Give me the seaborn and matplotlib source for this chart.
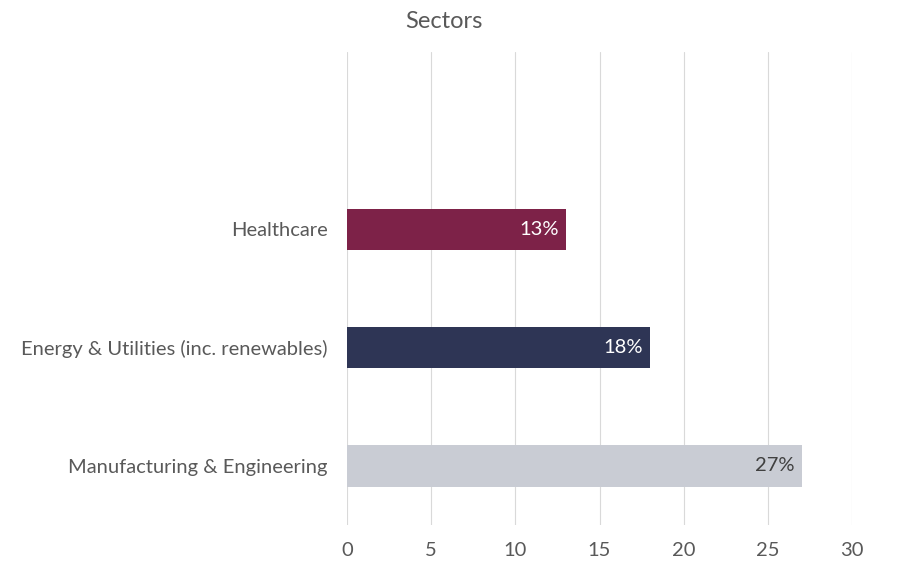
import matplotlib
matplotlib.use("Agg")
import matplotlib.pyplot as plt
import seaborn as sns
import pandas as pd

categories = ["Healthcare", "Energy & Utilities (inc. renewables)", "Manufacturing & Engineering"]
values = [13, 18, 27]
bar_colors = ["#7D2248", "#2E3555", "#C9CCD4"]
label_colors = ["white", "white", "#404040"]
x_ticks = [0, 5, 10, 15, 20, 25, 30]

sns.set_theme(style="white")
plt.rcParams['font.family'] = ['Lato', 'DejaVu Sans']

df = pd.DataFrame({"sector": categories, "value": values})

fig = plt.figure(figsize=(9.22, 5.85), dpi=100)
ax = fig.add_axes([347/922, 1-525/585, (852-347)/922, (525-52)/585])

sns.barplot(data=df, x="value", y="sector", hue="sector", palette=bar_colors,
            order=categories, hue_order=categories, legend=False,
            width=0.35, saturation=1, ax=ax, zorder=3, linewidth=0)

ax.set_xlim(0, 30)
ax.set_ylim(2.5, -1.5)
ax.set_xticks(x_ticks)
ax.set_xticklabels([str(t) for t in x_ticks], fontsize=14.5, color="#595959")
ax.tick_params(axis="y", labelsize=14.5, labelcolor="#595959", length=0, pad=14)
ax.tick_params(axis="x", length=0, pad=12)
ax.set_xlabel("")
ax.set_ylabel("")
ax.grid(axis="x", color="#D9D9D9", linewidth=0.8, zorder=0)
ax.set_axisbelow(True)
for s in ax.spines.values():
    s.set_visible(False)

for i, (v, c) in enumerate(zip(values, label_colors)):
    ax.text(v - 0.4, i, f"{v}%", ha="right", va="center", fontsize=14.5, color=c, zorder=4)

fig.text(444/922, 1-21/585, "Sectors", ha="center", va="center", fontsize=17, color="#595959")

fig.savefig("out.png", dpi=100)
